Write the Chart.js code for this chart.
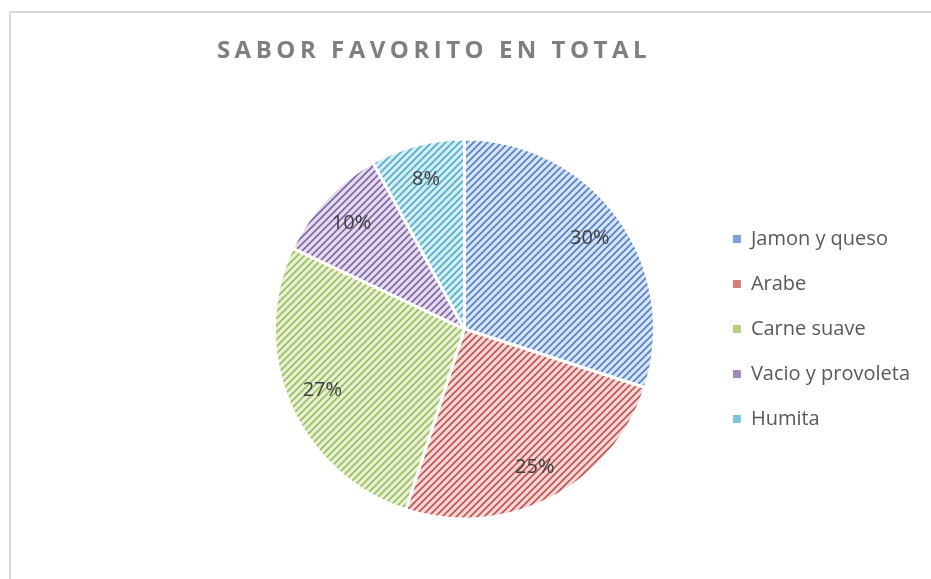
<!DOCTYPE html>
<html>
<head>
<meta charset="utf-8">
<script src="https://cdn.jsdelivr.net/npm/chart.js@4.4.0/dist/chart.umd.min.js"></script>
<style>
  body { margin: 0; background: #fff; }
  #frame { position: absolute; left: 9px; top: 11px; width: 960px; height: 600px;
           border-left: 2px solid #d9d9d9; border-top: 2px solid #d9d9d9; }
  #chart { position: absolute; left: 0; top: 0; }
</style>
</head>
<body>
<div id="frame"></div>
<canvas id="chart" width="931" height="579"></canvas>
<script>
const titleText = 'SABOR FAVORITO EN TOTAL';
const flavours = ['Jamon y queso', 'Arabe', 'Carne suave', 'Vacio y provoleta', 'Humita'];
const shares = [30, 25, 27, 10, 8];
const lineColors = ['#4f81bd', '#c0504d', '#9bbb59', '#8064a2', '#4bacc6'];
const midColors = ['#7da0d6', '#d37f7c', '#b5cf83', '#a28ac0', '#7cc4d8'];
const bgColors = ['#d6e1f2', '#f2d6d5', '#e7efd7', '#e2dbeb', '#d5ecf3'];

// little tile with a "/" hatch, like the office pattern fill
function makeHatch(line, mid, bg) {
  const size = 7;
  const c = document.createElement('canvas');
  c.width = size; c.height = size;
  const g = c.getContext('2d');
  g.fillStyle = bg;
  g.fillRect(0, 0, size, size);
  for (let y = 0; y < size; y++) {
    const x = size - 1 - y;
    g.fillStyle = line;
    g.fillRect(x, y, 1, 1);
    g.fillStyle = mid;
    g.fillRect((x + 1) % size, y, 1, 1);
    g.fillRect((x + size - 1) % size, y, 1, 1);
  }
  return g.createPattern(c, 'repeat');
}

const ctx = document.getElementById('chart').getContext('2d');
const hatches = lineColors.map((c, i) => makeHatch(c, midColors[i], bgColors[i]));

const titlePlugin = {
  id: 'sheetTitle',
  afterDraw(chart) {
    const c = chart.ctx;
    c.save();
    c.font = 'bold 24px "Open Sans"';
    c.fillStyle = '#7f7f7f';
    c.letterSpacing = '4.5px';
    c.textAlign = 'center';
    c.textBaseline = 'middle';
    c.fillText(titleText, 434, 51);
    c.restore();
  }
};

const pctLabels = {
  id: 'pctLabels',
  afterDatasetsDraw(chart) {
    const c = chart.ctx;
    const meta = chart.getDatasetMeta(0);
    const total = shares.reduce((a, b) => a + b, 0);
    c.save();
    c.font = '20px "Open Sans"';
    c.fillStyle = '#404040';
    c.textAlign = 'center';
    c.textBaseline = 'middle';
    meta.data.forEach((arc, i) => {
      const mid = (arc.startAngle + arc.endAngle) / 2;
      const r = arc.outerRadius * 0.815;
      const txt = Math.round(shares[i] / total * 100) + '%';
      c.fillText(txt, arc.x + Math.cos(mid) * r, arc.y + Math.sin(mid) * r);
    });
    c.restore();
  }
};

new Chart(ctx, {
  type: 'pie',
  data: {
    labels: flavours,
    datasets: [{
      data: shares,
      backgroundColor: hatches,
      borderColor: '#ffffff',
      borderWidth: 3,
      radius: 190,
    }],
  },
  options: {
    responsive: false,
    animation: false,
    layout: { padding: { left: 221, right: 11, top: 139, bottom: 60 } },
    plugins: {
      title: { display: false },
      tooltip: { enabled: false },
      legend: {
        position: 'right',
        labels: {
          boxWidth: 8,
          boxHeight: 8,
          padding: 25,
          color: '#595959',
          font: { family: 'Open Sans', size: 20 },
          generateLabels: () => flavours.map((f, i) => ({
            text: f,
            fillStyle: midColors[i],
            strokeStyle: lineColors[i],
            lineWidth: 0,
            fontColor: '#595959',
            index: i,
            hidden: false,
          })),
        },
      },
    },
  },
  plugins: [titlePlugin, pctLabels],
});
</script>
</body>
</html>
